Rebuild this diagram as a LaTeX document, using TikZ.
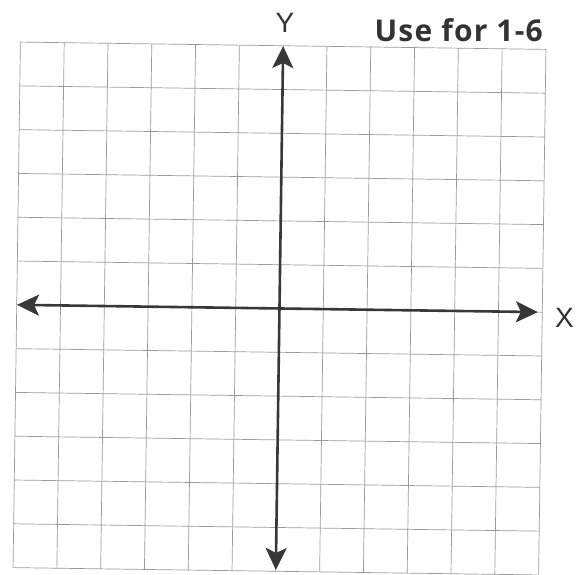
\documentclass[tikz,border=0pt]{standalone}
\usepackage{fontspec}
\setmainfont{Liberation Sans}
\newfontfamily\titlefont[LetterSpace=4]{Open Sans}
\usetikzlibrary{arrows.meta}
\begin{document}
\begin{tikzpicture}[x=1pt,y=-1pt,
  gridline/.style={draw=black!40, line width=0.7pt},
  axis/.style={draw=black!78, line width=2.6pt,
    {Stealth[length=22pt,width=21pt,inset=5pt]}-{Stealth[length=22pt,width=21pt,inset=5pt]}},
  lbl/.style={font=\fontsize{28}{28}\selectfont, text=black!80, inner sep=0pt}]
\useasboundingbox (0,0) rectangle (583,574);
\begin{scope}[rotate around={-0.8:(279.5,308.5)}]
  \foreach \i in {0,...,12} {
    \draw[gridline] ({16.7+43.8*\i},45.7) -- ({16.7+43.8*\i},571.3);
    \draw[gridline] (16.7,{45.7+43.8*\i}) -- (542.3,{45.7+43.8*\i});
  }
  \coordinate (xl) at (17,308.5);
  \coordinate (xr) at (538,308.5);
  \coordinate (yt) at (279.5,46);
  \coordinate (yb) at (279.5,570);
  \draw[axis] (xl) -- (xr);
  \draw[axis] (yb) -- (yt);
\end{scope}
\node[lbl, anchor=base] (ylab) at (285,32) {Y};
\node[lbl, anchor=base west] (xlab) at (555,327) {X};
\node[font=\titlefont\bfseries\fontsize{30}{30}\selectfont, text=black!80, anchor=base east, inner sep=0pt] (title) at (543,41) {Use for 1-6};
\end{tikzpicture}
\end{document}
